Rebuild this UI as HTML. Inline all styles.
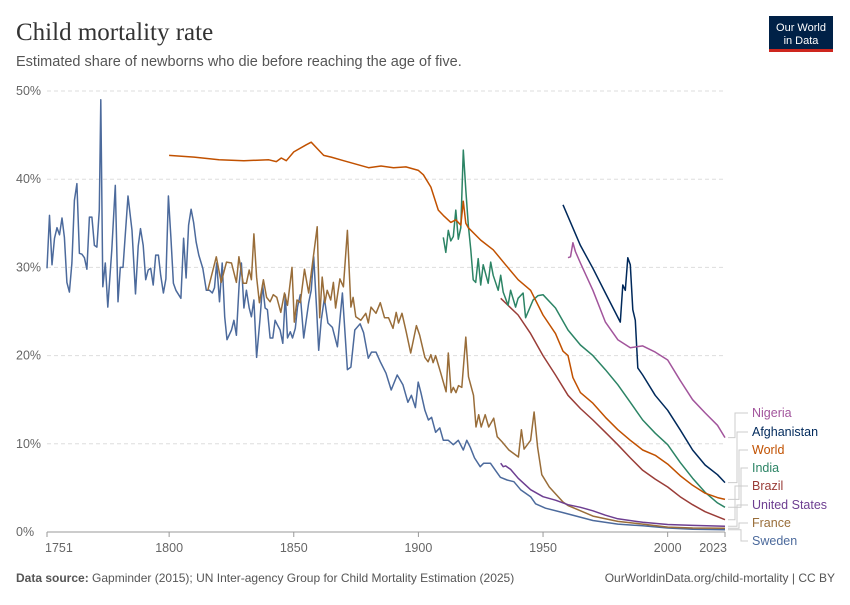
<!DOCTYPE html>
<html><head><meta charset="utf-8"><style>
body{margin:0;background:#fff;}
svg text{font-family:"Liberation Sans",sans-serif;}
</style></head><body>
<svg id="chart" width="850" height="600" xmlns="http://www.w3.org/2000/svg">
<rect width="850" height="600" fill="#fff"/>
<text x="16" y="40" font-family="Liberation Serif,serif" font-size="25" fill="#333" style="font-family:'Liberation Serif',serif">Child mortality rate</text>
<text x="16" y="66" font-size="14.5" fill="#555">Estimated share of newborns who die before reaching the age of five.</text>
<g>
<rect x="769" y="16" width="64" height="34" fill="#002147"/>
<rect x="769" y="49" width="64" height="3" fill="#ce261e"/>
<text x="801" y="31" font-size="11" fill="#fff" text-anchor="middle">Our World</text>
<text x="801" y="44" font-size="11" fill="#fff" text-anchor="middle">in Data</text>
</g>
<g id="grid"></g>
<g id="series"></g>
<g id="labels"></g>
<text x="16" y="582" font-size="12" fill="#555"><tspan font-weight="bold">Data source:</tspan> Gapminder (2015); UN Inter-agency Group for Child Mortality Estimation (2025)</text>
<text x="835" y="582" font-size="12" fill="#555" text-anchor="end">OurWorldinData.org/child-mortality | CC BY</text>
</svg>
<script>
const yTicks=[0,10,20,30,40,50];
const yTickLabels=["0%","10%","20%","30%","40%","50%"];
const xTicks=[1751,1800,1850,1900,1950,2000,2023];
const seriesNames=["Nigeria","Afghanistan","World","India","Brazil","United States","France","Sweden"];
const seriesColors=["#a2559c","#00295b","#c15100","#2c8465","#9a3d38","#6d3e91","#996d39","#4c6a9c"];
const sweden=[[1751,29.9],[1752,35.9],[1753,30.3],[1754,33.3],[1755,34.5],[1756,33.7],[1757,35.6],[1758,33.4],[1759,28.3],[1760,27.2],[1761,30.5],[1762,37.6],[1763,39.5],[1764,31.6],[1765,31.5],[1766,31.1],[1767,29.8],[1768,35.7],[1769,35.7],[1770,32.5],[1771,32.3],[1772,36.5],[1772.6,49],[1773.4,27.8],[1774.4,30.5],[1775.4,25.5],[1777,32],[1778.4,39.3],[1779.5,26.1],[1780.4,30],[1781.5,30],[1783.5,38.1],[1785.1,34.2],[1786.5,27],[1787.6,32.4],[1788.5,34.4],[1789.6,32.5],[1790.6,28.6],[1791.6,29.7],[1792.6,29.9],[1793.6,28],[1794.6,31.4],[1795.7,31.4],[1796.6,29.1],[1797.7,27.1],[1798.7,28.7],[1799.7,38.1],[1800.7,33.4],[1801.7,28.2],[1802.7,27.4],[1804.7,26.5],[1805.8,33.3],[1806.8,28.8],[1807.8,34.8],[1808.8,36.6],[1809.8,35.1],[1810.8,32.9],[1811.9,31.4],[1813.5,29.9],[1814.9,27.4],[1816.2,27.4],[1817.3,27.1],[1818.2,27.7],[1819.1,30.5],[1820.2,26.1],[1821.3,30.5],[1822.3,24.4],[1823.2,21.8],[1825,22.9],[1826,24],[1827,22.3],[1828.1,28.2],[1829,30.5],[1830,25.4],[1831,27.4],[1832.1,25.4],[1833,24.4],[1834,26.3],[1835.1,19.8],[1836.4,24],[1837.5,28],[1838.5,25.4],[1839.4,25.2],[1840.5,22],[1841.6,22],[1842.5,24],[1843.4,23.5],[1844.5,22.9],[1845.6,21.4],[1846.6,26.9],[1847.5,22],[1848.6,22.7],[1849.5,22],[1850.6,23.1],[1851.5,25.5],[1852.6,26.9],[1854,22],[1855,24],[1856,26],[1857,27.4],[1858,31.2],[1859.1,25.5],[1860,20.6],[1861,24],[1862.3,26.5],[1863.7,23.7],[1865.5,23.2],[1867.5,21],[1869.5,27.1],[1871.5,18.4],[1872.9,18.7],[1874.5,22.9],[1876.6,23.6],[1878,22.6],[1879.9,19.7],[1881.2,20.4],[1883,20.4],[1884.7,19.3],[1887,18],[1889.1,16.1],[1891.5,17.8],[1893.8,16.7],[1895.8,14.7],[1897.2,15.5],[1898.8,14.1],[1899.9,17],[1901,15.8],[1902.6,13.8],[1904,12.7],[1905.3,13],[1906.9,11.3],[1908.6,11.8],[1910,10.4],[1912,10.4],[1914,9.9],[1916,10.4],[1918,9.3],[1919.4,10.4],[1920.8,9.6],[1922.5,8.4],[1924.8,7.4],[1926.2,7.8],[1928.9,7.8],[1930.9,7],[1932.9,6.2],[1935.6,5.9],[1938.3,5.7],[1941,4.8],[1943,4.4],[1945,4],[1947,3.2],[1951,2.7],[1958,2.2],[1970,1.3],[1980,0.9],[1990,0.7],[2000,0.45],[2010,0.32],[2023,0.26]];
const france=[[1815.5,27.4],[1818.9,31.2],[1820.9,28.3],[1823,30.6],[1825,30.5],[1827,28.3],[1828,31.2],[1829.7,28.2],[1831,28.2],[1832.1,29.7],[1833,28.6],[1834,33.8],[1835.1,28.9],[1836.2,26],[1837.8,28.6],[1839.1,26.6],[1840.5,26.1],[1841.8,26.9],[1843.2,26.6],[1844.8,24.9],[1846.3,27.1],[1847.5,25.7],[1849.3,30],[1850.2,23.8],[1851.3,26.3],[1852.6,26],[1854.3,29.8],[1856,27.1],[1859.4,34.6],[1860.4,24.3],[1861.4,28.9],[1862.5,26],[1863.4,27.4],[1864.8,26.3],[1865.9,28.3],[1866.8,25.4],[1868.5,28.7],[1869.9,27.8],[1871.5,34.2],[1872.9,25.5],[1873.8,26.6],[1874.9,24.4],[1876.9,24],[1878.9,24.8],[1879.9,23.7],[1881,25.5],[1883,24.8],[1884.7,26],[1886.4,24.3],[1888,24.3],[1889.8,23.1],[1891.1,24.9],[1892,23.7],[1893.4,24.8],[1895.1,22.7],[1896.9,20.3],[1899.2,23.4],[1900.5,22.3],[1902.6,19.8],[1903.9,19.3],[1905,20.1],[1905.9,19.2],[1906.9,20],[1909,18],[1911.1,15.9],[1912,20.3],[1913.1,15.8],[1914,16.4],[1915.1,15.8],[1916.1,16.6],[1917.4,16.4],[1919,22.1],[1920.1,17.6],[1922.1,15.5],[1923.1,11.9],[1924.2,13.3],[1925.2,11.9],[1926.8,13.3],[1928.2,11.9],[1930.2,12.9],[1931.6,10.8],[1933.6,10.2],[1936.3,9.3],[1940.1,8.5],[1941.3,11.6],[1942.4,9.4],[1945,10.4],[1946.4,13.6],[1947.8,9.6],[1949.5,6.5],[1952.5,5.1],[1958,3.4],[1960,3.0],[1970,1.8],[1980,1.2],[1990,0.9],[2000,0.55],[2010,0.45],[2023,0.42]];
const world=[[1800,42.7],[1810,42.5],[1820,42.2],[1830,42.1],[1840,42.2],[1843,42],[1845,42.4],[1847,42.1],[1850,43.1],[1855,43.9],[1857,44.2],[1860,43.3],[1862,42.7],[1865,42.5],[1870,42.1],[1875,41.7],[1880,41.3],[1885,41.5],[1890,41.3],[1895,41.4],[1900,41],[1902,40.5],[1905,39.1],[1908,36.5],[1910,35.9],[1913,35.1],[1915,35.4],[1917,34.8],[1918,37.5],[1919,35],[1920,34.5],[1925,33.1],[1930,32],[1935,30.3],[1940,28.6],[1945,27.4],[1950,24.6],[1955,22.5],[1958,20.5],[1960,20],[1962,17.5],[1965,15.8],[1970,14.6],[1975,13],[1980,11.6],[1985,10.4],[1990,9.3],[1995,8.7],[2000,7.7],[2005,6.4],[2010,5.3],[2015,4.4],[2020,3.9],[2023,3.7]];
const india=[[1910,33.4],[1911,31.7],[1912,34.2],[1913,33],[1914,33.5],[1915,36.5],[1916,33.2],[1917,34.5],[1918,43.3],[1919,38.8],[1920,34.8],[1921,32],[1922,28.6],[1923,28.3],[1924,31],[1925,28],[1926,30.3],[1928,28.2],[1929,30.6],[1930,29.1],[1932,27.4],[1933,29.1],[1934,27.2],[1936,25.7],[1937,27.4],[1939,25.5],[1940,26.5],[1942,27.1],[1943,24.3],[1946,26.3],[1948,26.8],[1950,26.9],[1955,25.4],[1960,22.9],[1965,21.2],[1970,20],[1975,18.4],[1980,16.7],[1985,14.7],[1990,12.7],[1995,11.2],[2000,9.9],[2005,7.9],[2010,6.1],[2015,4.5],[2020,3.3],[2023,2.8]];
const brazil=[[1933,26.5],[1940,24.6],[1945,22.5],[1950,20],[1955,17.8],[1960,15.5],[1965,14],[1970,12.7],[1975,11.3],[1980,9.9],[1985,8.4],[1990,7],[1995,6],[2000,5.1],[2005,4],[2010,3.1],[2015,2.3],[2023,1.4]];
const nigeria=[[1960,31.1],[1961,31.2],[1962,32.8],[1963,31.8],[1965,30.5],[1970,27.4],[1975,23.8],[1980,21.8],[1985,20.9],[1990,21.1],[1995,20.4],[2000,19.5],[2005,17.2],[2010,15],[2015,13.5],[2020,12.1],[2023,10.7]];
const afghanistan=[[1958,37.1],[1965,32.5],[1970,29.9],[1975,27.1],[1981,23.8],[1982,28],[1983,27.4],[1984,31.1],[1985,30.3],[1986,25.2],[1987,24],[1988,18.6],[1990,17.8],[1995,15.5],[2000,13.8],[2005,11.6],[2010,9.3],[2015,7.6],[2020,6.5],[2023,5.6]];
const unitedStates=[[1933,7.8],[1934,7.4],[1935,7.5],[1937,7.1],[1940,6.1],[1945,4.8],[1950,4],[1955,3.6],[1960,3.1],[1965,2.8],[1970,2.4],[1975,1.9],[1980,1.5],[1990,1.1],[2000,0.85],[2010,0.75],[2023,0.65]];
const allSeries=[nigeria,afghanistan,world,india,brazil,unitedStates,france,sweden];
const labelYs=[417,436,454,472,490,509,527,545];

const NS="http://www.w3.org/2000/svg";
const X0=47,X1=725,Y0=532,Y1=91;
function xScale(yr){return X0+(yr-1751)*(X1-X0)/(2023-1751);}
function yScale(v){return Y0-v*(Y0-Y1)/50;}
function mk(tag,attrs,parent){const e=document.createElementNS(NS,tag);for(const k in attrs)e.setAttribute(k,attrs[k]);parent.appendChild(e);return e;}
const grid=document.getElementById('grid');
yTicks.forEach((t,i)=>{
  const y=yScale(t);
  if(t>0){const l=mk('line',{x1:X0,x2:X1,y1:y,y2:y,stroke:'#ddd','stroke-dasharray':'4,3'},grid);
  
  }
  const tx=mk('text',{x:16,y:y+4,'font-size':12.5,fill:'#666'},grid);
  tx.textContent=yTickLabels[i];
  
  
});
const base=mk('line',{x1:X0,x2:X1,y1:Y0,y2:Y0,stroke:'#999'},grid);


xTicks.forEach((t,i)=>{
  const x=xScale(t);
  mk('line',{x1:x,x2:x,y1:Y0,y2:Y0+5,stroke:'#999'},grid);
  const tx=mk('text',{x:x,y:552,'font-size':12.5,fill:'#666','text-anchor':i==0?'start':(i==xTicks.length-1?'end':'middle')},grid);
  if(i==0)tx.setAttribute('x',x-2);
  if(i==xTicks.length-1)tx.setAttribute('x',x+2);
  tx.textContent=t;
  
  
});
const sg=document.getElementById('series'),lg=document.getElementById('labels');
for(let s=allSeries.length-1;s>=0;s--){
  const d=allSeries[s].map((p,i)=>(i?'L':'M')+xScale(p[0]).toFixed(1)+','+yScale(p[1]).toFixed(1)).join('');
  const p=mk('path',{d:d,fill:'none',stroke:seriesColors[s],'stroke-width':1.5,'stroke-linejoin':'round'},sg);
  
  
}
allSeries.forEach((ser,s)=>{
  const last=ser[ser.length-1];const ey=yScale(last[1]);const ly=labelYs[s]-4;
  const cx=735+ (s%4)*2;
  mk('path',{d:`M${X1+3},${ey.toFixed(1)}H${cx}V${ly}H748`,fill:'none',stroke:'#ccc','stroke-width':1},lg);
  const t=mk('text',{x:752,y:labelYs[s],'font-size':12.5,fill:seriesColors[s]},lg);
  t.textContent=seriesNames[s];
  
  
});
</script>
</body></html>
